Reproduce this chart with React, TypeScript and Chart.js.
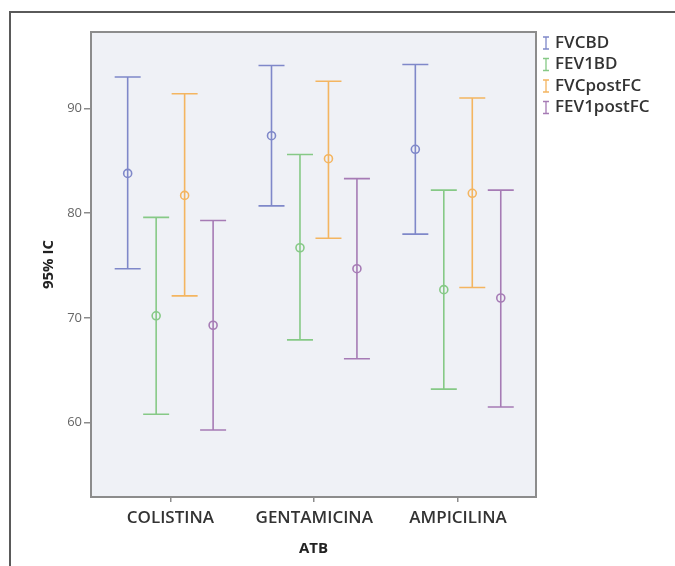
import React, { useEffect, useRef } from "react";
import { Chart, registerables } from "chart.js";

Chart.register(...registerables);

// Groups along the x axis
const categories = ["COLISTINA", "GENTAMICINA", "AMPICILINA"];

// Series names and colours
const seriesNames = ["FVCBD", "FEV1BD", "FVCpostFC", "FEV1postFC"];
const seriesColors = ["#7f88c9", "#86c986", "#f4b560", "#a67bb5"];

// Means and 95% confidence limits per group
const fvcbdMean = [83.8, 87.4, 86.1];
const fvcbdLow = [74.7, 80.7, 78.0];
const fvcbdHigh = [93.0, 94.1, 94.2];

const fev1bdMean = [70.2, 76.7, 72.7];
const fev1bdLow = [60.8, 67.9, 63.2];
const fev1bdHigh = [79.6, 85.6, 82.2];

const fvcpostMean = [81.7, 85.2, 81.9];
const fvcpostLow = [72.1, 77.6, 72.9];
const fvcpostHigh = [91.4, 92.6, 91.0];

const fev1postMean = [69.3, 74.7, 71.9];
const fev1postLow = [59.3, 66.1, 61.5];
const fev1postHigh = [79.3, 83.3, 82.2];

// Horizontal shift of each series inside a group (in category units)
const seriesOffsets = [-0.297, -0.099, 0.099, 0.297];

const yTicks = [60, 70, 80, 90];

const means = [fvcbdMean, fev1bdMean, fvcpostMean, fev1postMean];
const lows = [fvcbdLow, fev1bdLow, fvcpostLow, fev1postLow];
const highs = [fvcbdHigh, fev1bdHigh, fvcpostHigh, fev1postHigh];

const FONT = "'Open Sans', 'DejaVu Sans', sans-serif";

const plotBackground = {
  id: "plotBackground",
  beforeDraw(chart: any) {
    const { ctx, chartArea: a } = chart;
    ctx.save();
    ctx.fillStyle = "#ffffff";
    ctx.fillRect(0, 0, chart.width, chart.height);
    ctx.fillStyle = "#eff1f6";
    ctx.fillRect(a.left, a.top, a.right - a.left, a.bottom - a.top);
    ctx.restore();
  },
  afterDraw(chart: any) {
    const { ctx, chartArea: a } = chart;
    ctx.save();
    // plot frame
    ctx.strokeStyle = "#8c8c8c";
    ctx.lineWidth = 2;
    ctx.strokeRect(a.left, a.top, a.right - a.left, a.bottom - a.top);
    // outer figure frame
    ctx.strokeStyle = "#5a5a5a";
    ctx.lineWidth = 2;
    ctx.beginPath();
    ctx.moveTo(10, chart.height);
    ctx.lineTo(10, 12);
    ctx.lineTo(chart.width, 12);
    ctx.stroke();
    ctx.restore();
  },
};

const errorBars = {
  id: "errorBars",
  beforeDatasetsDraw(chart: any) {
    const { ctx } = chart;
    const xs = chart.scales.x;
    const ys = chart.scales.y;
    ctx.save();
    ctx.lineWidth = 1.6;
    seriesNames.forEach((_, s) => {
      ctx.strokeStyle = seriesColors[s];
      categories.forEach((__, c) => {
        const x = xs.getPixelForValue(c + seriesOffsets[s]);
        const yl = ys.getPixelForValue(lows[s][c]);
        const yh = ys.getPixelForValue(highs[s][c]);
        const half = 13;
        ctx.beginPath();
        ctx.moveTo(x, yl);
        ctx.lineTo(x, yh);
        ctx.moveTo(x - half, yl);
        ctx.lineTo(x + half, yl);
        ctx.moveTo(x - half, yh);
        ctx.lineTo(x + half, yh);
        ctx.stroke();
      });
    });
    ctx.restore();
  },
};

const sideLegend = {
  id: "sideLegend",
  afterDraw(chart: any) {
    const { ctx, chartArea: a } = chart;
    ctx.save();
    ctx.font = `600 17px ${FONT}`;
    ctx.textBaseline = "middle";
    ctx.textAlign = "left";
    seriesNames.forEach((name, i) => {
      const y = a.top + 11 + i * 21.5;
      const mx = a.right + 10;
      ctx.strokeStyle = seriesColors[i];
      ctx.lineWidth = 1.3;
      ctx.beginPath();
      ctx.moveTo(mx, y - 6);
      ctx.lineTo(mx, y + 6);
      ctx.moveTo(mx - 3, y - 6);
      ctx.lineTo(mx + 3, y - 6);
      ctx.moveTo(mx - 3, y + 6);
      ctx.lineTo(mx + 3, y + 6);
      ctx.stroke();
      ctx.fillStyle = "#333333";
      ctx.fillText(name, mx + 9, y);
    });
    ctx.restore();
  },
};

export default function App() {
  const ref = useRef<HTMLCanvasElement | null>(null);

  useEffect(() => {
    if (!ref.current) return;
    const datasets = seriesNames.map((name, s) => ({
      label: name,
      data: categories.map((_, c) => ({ x: c + seriesOffsets[s], y: means[s][c] })),
      borderColor: seriesColors[s],
      backgroundColor: "rgba(0,0,0,0)",
      pointRadius: 4,
      pointBorderWidth: 1.6,
      pointStyle: "circle",
      showLine: false,
    }));

    const chart = new Chart(ref.current, {
      type: "scatter",
      data: { datasets },
      options: {
        responsive: false,
        animation: false,
        layout: { padding: { top: 32, right: 139, left: 0, bottom: 0 } },
        plugins: {
          legend: { display: false },
          tooltip: { enabled: false },
        },
        scales: {
          x: {
            type: "linear",
            min: -0.552,
            max: 2.542,
            afterFit(scale: any) {
              scale.height = 69;
            },
            afterBuildTicks(scale: any) {
              scale.ticks = categories.map((_, i) => ({ value: i }));
            },
            border: { display: false },
            grid: {
              drawOnChartArea: false,
              drawTicks: true,
              tickLength: 5,
              color: "#8c8c8c",
              lineWidth: 1.5,
            },
            ticks: {
              padding: 6,
              color: "#333333",
              font: { family: FONT, size: 17, weight: "600" },
              maxRotation: 0,
              autoSkip: false,
              callback: (v: any) => categories[Math.round(Number(v))] ?? "",
            },
            title: {
              display: true,
              text: "ATB",
              color: "#222222",
              font: { family: FONT, size: 15, weight: "bold" },
              padding: { top: 0, bottom: 8 },
            },
          },
          y: {
            type: "linear",
            min: 52.9,
            max: 97.3,
            afterFit(scale: any) {
              scale.width = 91;
            },
            afterBuildTicks(scale: any) {
              scale.ticks = yTicks.map((v) => ({ value: v }));
            },
            border: { display: false },
            grid: {
              drawOnChartArea: false,
              drawTicks: true,
              tickLength: 7,
              color: "#8c8c8c",
              lineWidth: 1.5,
            },
            ticks: {
              padding: 2,
              color: "#666666",
              font: { family: FONT, size: 13 },
            },
            title: {
              display: true,
              text: "95% IC",
              color: "#222222",
              font: { family: FONT, size: 15, weight: "bold" },
              padding: { top: 40, bottom: 0 },
            },
          },
        },
      },
      plugins: [plotBackground, errorBars, sideLegend],
    });
    return () => chart.destroy();
  }, []);

  return (
    <div style={{ position: "fixed", left: 0, top: 0, width: 675, height: 566, background: "#fff" }}>
      <canvas ref={ref} width={675} height={566} style={{ display: "block" }} />
    </div>
  );
}
